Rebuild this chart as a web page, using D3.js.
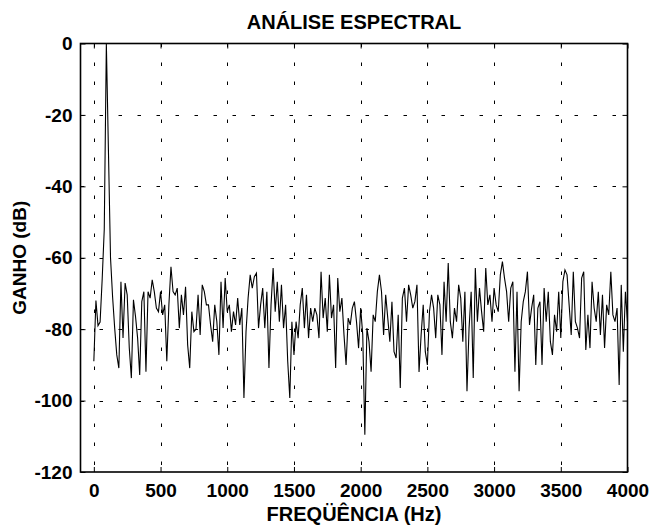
<!DOCTYPE html>
<html>
<head>
<meta charset="utf-8">
<script src="https://cdn.jsdelivr.net/npm/d3@7"></script>
<style>
  html, body { margin: 0; padding: 0; background: #fff; }
  svg { display: block; }
  text { font-family: "Liberation Sans", Arial, sans-serif; font-weight: bold; fill: #000; }
</style>
</head>
<body>
<svg id="chart" width="652" height="527"></svg>
<script>
// ---- data ----
const title = "ANÁLISE ESPECTRAL";
const xLabel = "FREQÜÊNCIA (Hz)";
const yLabel = "GANHO (dB)";
const xTicks = [0, 500, 1000, 1500, 2000, 2500, 3000, 3500, 4000];
const yTicks = [0, -20, -40, -60, -80, -100, -120];
const freqStep = 15.625; // Hz between spectrum samples
const gain = [
  -89, -72, -79, -78, -66, -52, 0, -30, -60, -71,
  -79.7, -87.2, -90.9, -66.7, -82.5, -67.1, -70.4, -85.3, -93.7, -71.8,
  -76.5, -82.5, -92.8, -72.3, -69.5, -91.9, -69.5, -71.3, -66.2, -69.5,
  -74.1, -75.1, -69.5, -76, -73.2, -89, -73.2, -62.5, -69.5, -70.4,
  -68.5, -79.7, -70.4, -76, -68.1, -84.4, -90.9, -75.1, -80.7, -80,
  -70.4, -81.6, -67.6, -69.5, -73.2, -73.2, -78.8, -83.5, -73.2, -77.9,
  -87.2, -66.7, -79.7, -65.7, -75.1, -73.2, -80.7, -75.1, -78.8, -71.3,
  -78.8, -74.1, -99.3, -80.7, -71.3, -64.8, -68.5, -65.3, -64.3, -79.7,
  -73.2, -68.5, -79.7, -69.5, -90.9, -73.2, -62.9, -75.1, -66.7, -77.9,
  -67.6, -79.7, -73.2, -89, -99.3, -77.9, -87.2, -77.9, -82.5, -73.2,
  -68.5, -79.7, -70.4, -82.5, -74.1, -77.9, -74.1, -76, -82.5, -63.9,
  -76.9, -71.3, -80.7, -64.8, -76.9, -73.2, -90.9, -65.7, -75.1, -71.3,
  -81.6, -90, -76.9, -78.8, -74.1, -72.3, -77.9, -85.3, -74.1, -81.6,
  -109.6, -79.7, -83.5, -91.9, -76, -77.9, -69.5, -64.8, -69.5, -81.6,
  -70.4, -76.9, -83.5, -72.3, -86.3, -88.1, -76, -96.5, -71.3, -68.5,
  -77.9, -67.6, -70.4, -74.1, -72.3, -67.6, -92, -81.6, -73.2, -86.3,
  -90, -75.1, -70.4, -74.1, -82.5, -70.4, -73.2, -87.2, -66.7, -77.9,
  -61.5, -77.9, -82.5, -74.1, -77.9, -67.6, -71.3, -83.5, -69.5, -97.4,
  -79.7, -69.5, -93.7, -62.9, -77.9, -68.5, -75.1, -80.7, -62.9, -73.2,
  -70.4, -77.9, -68.5, -73.2, -75.1, -64.8, -61.1, -65.7, -69.5, -77.9,
  -68.5, -66.7, -91.9, -69.5, -97.4, -77.9, -72.3, -69.5, -63.9, -78.8,
  -74.1, -70.4, -90, -74.1, -72.3, -90, -68.5, -77.9, -69.5, -83.5,
  -87.2, -76, -80.7, -69.5, -82.5, -66.7, -63.4, -64.8, -73.2, -81.6,
  -63.9, -77.9, -79.7, -82.5, -65.7, -63.9, -85.8, -76, -85.3, -66.7,
  -74.1, -77.9, -69.5, -81.6, -70.4, -85.3, -73.2, -76, -63.9, -76,
  -77.9, -74.1, -95.6, -67.6, -86.3, -69.5, -77.9
];

// ---- layout ----
const svg = d3.select("#chart");
const L = 80.5, R = 627.5, T = 43.5, B = 472;
const x = d3.scaleLinear().domain([-100, 4000]).range([L, R]);
const y = d3.scaleLinear().domain([-120, 0]).range([B, T]);
const fmt = d => String(d);

svg.append("defs").append("clipPath").attr("id", "clip")
  .append("rect").attr("x", L).attr("y", T).attr("width", R - L).attr("height", B - T);

// grid
const grid = svg.append("g").attr("stroke", "#000").attr("stroke-width", 1)
  .attr("stroke-dasharray", "3.5,15.5").attr("fill", "none");
xTicks.filter(d => d < 4000).forEach(d => {
  grid.append("line").attr("x1", Math.round(x(d)) + 0.5).attr("x2", Math.round(x(d)) + 0.5)
    .attr("y1", T).attr("y2", B);
});
yTicks.filter(d => d > -120 && d < 0).forEach(d => {
  grid.append("line").attr("x1", L).attr("x2", R)
    .attr("y1", Math.round(y(d)) + 0.5).attr("y2", Math.round(y(d)) + 0.5);
});

// spectrum line
const line = d3.line().x((d, i) => x(i * freqStep)).y(d => y(d));
svg.append("path").datum(gain).attr("clip-path", "url(#clip)")
  .attr("d", line).attr("fill", "none").attr("stroke", "#000").attr("stroke-width", 1.1);

// axes (ticks inward on all four sides)
const tl = 5;
const axB = svg.append("g").attr("transform", `translate(0,${B})`)
  .call(d3.axisBottom(x).tickValues(xTicks).tickFormat(fmt).tickSizeInner(-tl).tickSizeOuter(0).tickPadding(12));
const axT = svg.append("g").attr("transform", `translate(0,${T})`)
  .call(d3.axisTop(x).tickValues(xTicks).tickSizeInner(-tl).tickSizeOuter(0).tickFormat(""));
const axL = svg.append("g").attr("transform", `translate(${L},0)`)
  .call(d3.axisLeft(y).tickValues(yTicks).tickFormat(fmt).tickSizeInner(-tl).tickSizeOuter(0).tickPadding(8));
const axR = svg.append("g").attr("transform", `translate(${R},0)`)
  .call(d3.axisRight(y).tickValues(yTicks).tickSizeInner(-tl).tickSizeOuter(0).tickFormat(""));
[axB, axT, axL, axR].forEach(a => {
  a.select(".domain").remove();
  a.selectAll(".tick line").attr("stroke", "#000").attr("stroke-width", 1);
  a.selectAll("text").attr("font-size", 19).attr("font-family", "Liberation Sans, Arial, sans-serif")
    .attr("font-weight", "bold").attr("fill", "#000");
});
axB.selectAll("text").attr("dy", "0.71em");

// box
svg.append("rect").attr("x", L).attr("y", T).attr("width", R - L).attr("height", B - T)
  .attr("fill", "none").attr("stroke", "#000").attr("stroke-width", 1.6);

// labels
svg.append("text").attr("x", 354).attr("y", 29).attr("text-anchor", "middle")
  .attr("font-size", 20).text(title);
svg.append("text").attr("x", 354).attr("y", 521).attr("text-anchor", "middle")
  .attr("font-size", 20).text(xLabel);
svg.append("text").attr("transform", `translate(26,${(T + B) / 2}) rotate(-90)`)
  .attr("text-anchor", "middle").attr("font-size", 19).text(yLabel);
</script>
</body>
</html>
